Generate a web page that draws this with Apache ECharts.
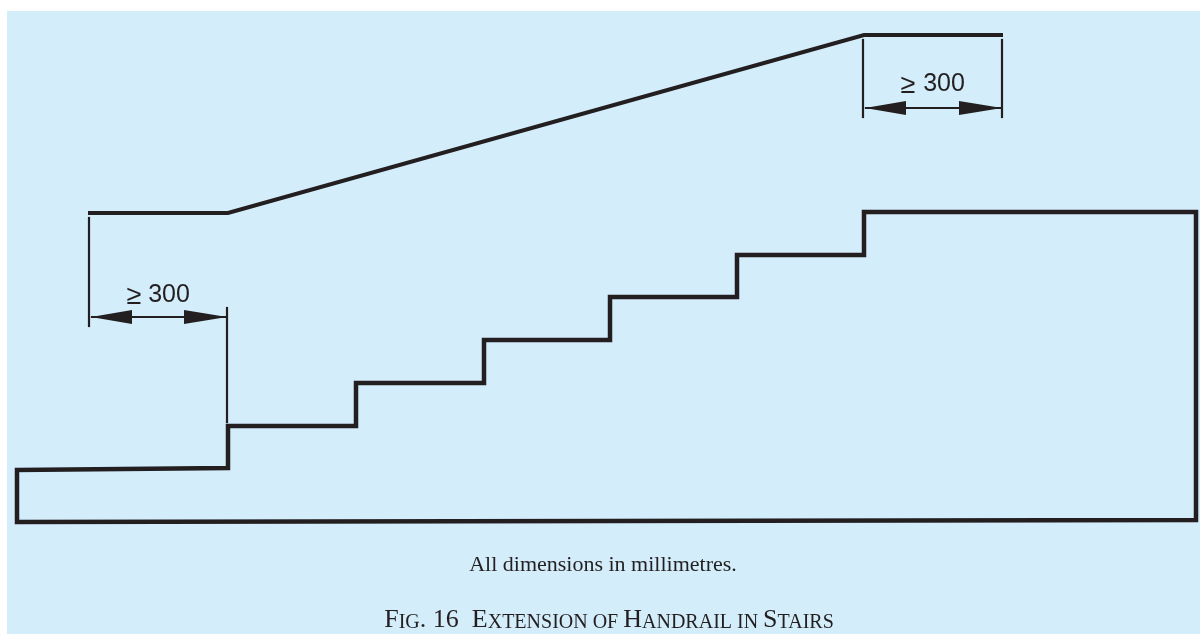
<!DOCTYPE html>
<html><head><meta charset="utf-8">
<style>html,body{margin:0;padding:0;background:#fff}#c{width:1200px;height:634px}</style>
<script src="https://cdn.jsdelivr.net/npm/echarts@6/dist/echarts.min.js"></script>
</head><body><div id="c"></div>
<script>
// Values, in picture units
const stairs = [[17,470],[228,468],[228,426],[356,426],[356,383],[484,383],[484,340],[610,340],[610,297],[737,297],[737,255],[864,255],[864,212],[1196,212],[1196,520],[17,522],[17,470]];
const handrail = [[90,213],[228,213],[864,35],[1001,35]];
const extensionLines = [
  [[89,218],[89,326]],
  [[227,308],[227,422]],
  [[863,40],[863,117]],
  [[1002,40],[1002,117]]
];
const dimensionLines = [
  [[92,317],[226,317]],
  [[866,108],[1001,108]]
];
const arrowHeads = [
  [[91,317],[132,310],[132,324]],
  [[227,317],[184,310],[184,324]],
  [[865,108],[906,101],[906,115]],
  [[1002,108],[959,101],[959,115]]
];
const geSignPositions = [[134,297],[908,86]];
const dimensionValuePositions = [[169,295],[944,84]];
const geSign = '≥';
const dimensionValue = '300';
const noteText = 'All dimensions in millimetres.';
const captionParts = [['F','b'],['IG','s'],['. 16','b'],['  ','b'],['E','b'],['XTENSION OF ','s'],['H','b'],['ANDRAIL IN ','s'],['S','b'],['TAIRS','s']];

const INK = '#231f20';
const poly = (name, data, width) => ({
  type:'line', name, data, symbol:'none', silent:true, animation:false,
  lineStyle:{color:INK,width,cap:'square',join:'miter'}
});
const textLabel = (pos, formatter, extra) => ({
  value:pos,
  label:Object.assign({show:true,position:'inside',formatter,color:INK,opacity:1},extra)
});

const chart = echarts.init(document.getElementById('c'), null, {renderer:'canvas'});
chart.setOption({
  animation:false,
  backgroundColor:'#ffffff',
  grid:{left:7,right:0,top:11,bottom:0,show:true,backgroundColor:'#d4edfb',borderWidth:0},
  xAxis:{type:'value',min:7,max:1200,show:false},
  yAxis:{type:'value',min:11,max:634,inverse:true,show:false},
  series:[
    poly('Stairs',stairs,4.5),
    poly('Handrail',handrail,4),
    ...extensionLines.map((d,i)=>poly('Extension '+i,d,2.2)),
    ...dimensionLines.map((d,i)=>poly('Dimension '+i,d,2.2)),
    {
      type:'custom', coordinateSystem:'cartesian2d', silent:true,
      data:arrowHeads.map(t=>t.flat()),
      encode:{x:[0,2,4],y:[1,3,5]},
      renderItem:(params,api)=>({
        type:'polygon',
        shape:{points:[0,2,4].map(k=>api.coord([api.value(k),api.value(k+1)]))},
        style:{fill:INK}
      })
    },
    {
      type:'scatter', symbolSize:1, silent:true,
      itemStyle:{opacity:1,color:'rgba(0,0,0,0)'},
      data:[
        ...geSignPositions.map(p=>textLabel(p,geSign,{fontFamily:'Liberation Sans',fontSize:27})),
        ...dimensionValuePositions.map(p=>textLabel(p,dimensionValue,{fontFamily:'Liberation Sans',fontSize:25})),
        textLabel([603,565],noteText,{fontFamily:'Liberation Serif',fontSize:22}),
        {
          value:[609,619],
          label:{
            show:true,position:'inside',color:INK,opacity:1,
            formatter:captionParts.map(p=>`{${p[1]}|${p[0]}}`).join(''),
            rich:{
              b:{fontFamily:'Liberation Serif',fontSize:26,color:INK,lineHeight:28,verticalAlign:'bottom'},
              s:{fontFamily:'Liberation Serif',fontSize:20,color:INK,lineHeight:28,verticalAlign:'bottom'}
            }
          }
        }
      ]
    }
  ]
});
</script></body></html>
